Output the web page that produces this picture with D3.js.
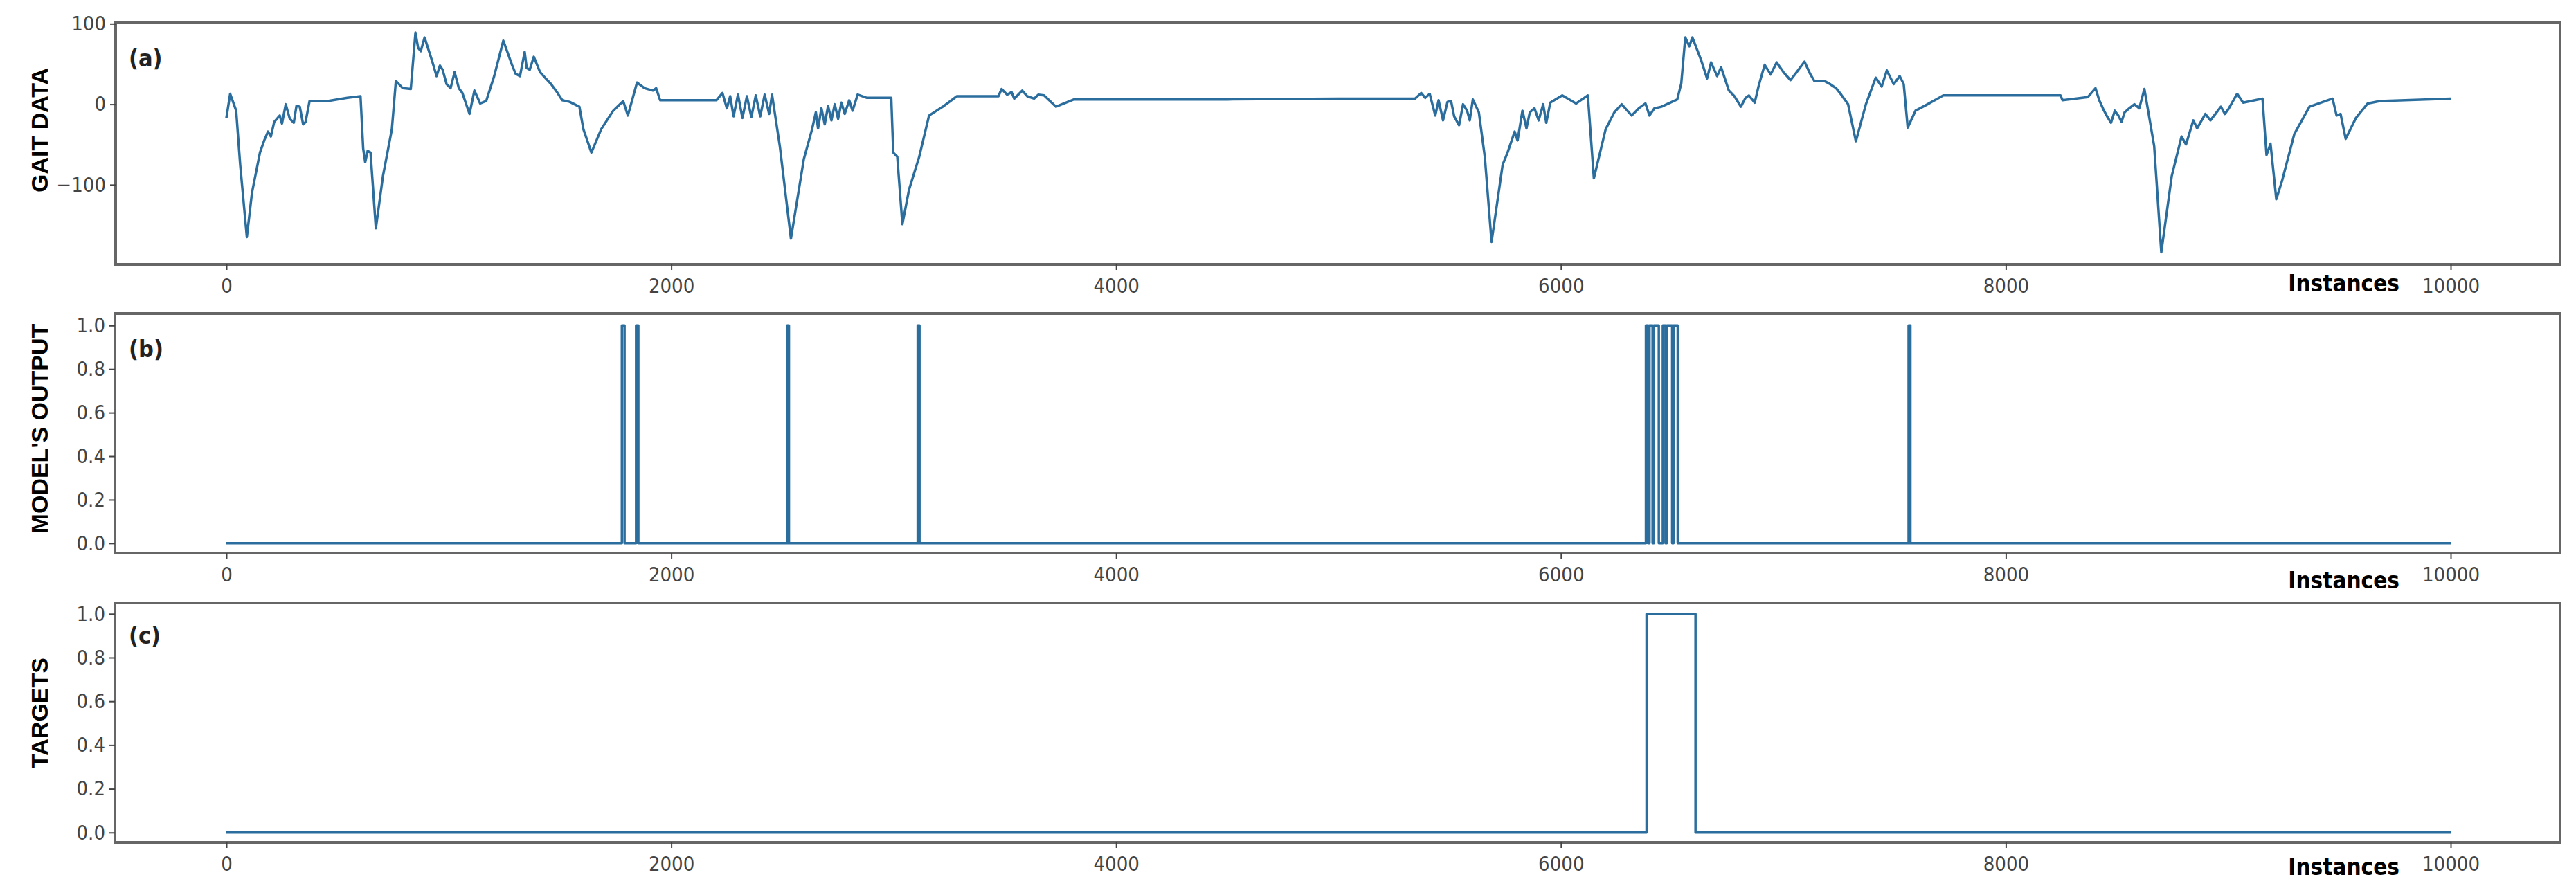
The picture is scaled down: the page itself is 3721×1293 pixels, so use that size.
<!DOCTYPE html>
<html><head><meta charset="utf-8">
<script src="https://cdn.jsdelivr.net/npm/d3@7"></script>
<style>body{margin:0;background:#fff}</style></head>
<body><svg id="c" width="3721" height="1293"></svg>
<script>
// ---- data ----
const gaitX = [0,17,44,62,92,115,151,170,187,200,215,240,250,267,285,303,315,330,345,356,374,455,544,603,615,624,635,648,672,704,744,762,793,829,850,862,874,891,927,945,960,972,990,1008,1026,1045,1061,1093,1115,1141,1168,1204,1245,1284,1300,1320,1341,1350,1364,1382,1410,1436,1460,1489,1510,1543,1587,1605,1641,1685,1739,1784,1805,1846,1880,1918,1932,1950,2203,2230,2250,2265,2280,2300,2320,2340,2360,2380,2400,2420,2440,2453,2488,2538,2596,2633,2650,2660,2675,2690,2705,2720,2735,2750,2765,2780,2800,2815,2838,2880,2989,2998,3016,3039,3069,3114,3159,3221,3284,3471,3485,3510,3530,3542,3578,3600,3631,3650,3676,3729,3810,3988,4500,5000,5344,5372,5390,5410,5435,5450,5470,5490,5506,5520,5542,5560,5578,5590,5604,5631,5658,5688,5738,5760,5792,5805,5827,5845,5860,5881,5900,5920,5934,5952,6006,6068,6121,6148,6201,6240,6273,6318,6350,6380,6398,6420,6452,6523,6541,6559,6577,6591,6630,6657,6675,6702,6720,6755,6780,6809,6830,6845,6871,6889,6916,6943,6970,7000,7032,7060,7095,7120,7139,7184,7210,7237,7260,7291,7326,7371,7415,7442,7465,7496,7523,7541,7559,7594,7648,7719,8246,8255,8369,8403,8420,8438,8455,8473,8490,8508,8520,8534,8555,8578,8600,8623,8667,8699,8746,8790,8810,8843,8860,8897,8920,8967,8985,9003,9040,9067,9154,9172,9190,9216,9242,9297,9365,9469,9487,9505,9528,9574,9627,9681,10000];
const gaitY = [-17,13,-8,-75,-165,-110,-60,-45,-34,-40,-22,-14,-24,0,-18,-23,-2,-3,-25,-22,4,4,8,10,-55,-72,-58,-60,-154,-89,-31,29,20,19,89,70,66,83,52,35,48,43,25,20,40,20,14,-12,17,1,4,35,79,49,38,35,65,45,43,59,40,32,25,14,5,3,-3,-31,-60,-31,-8,4,-14,27,20,17,20,5,5,14,-5,10,-15,12,-17,10,-16,11,-15,12,-12,12,-52,-167,-68,-31,-10,-30,-5,-25,-2,-20,0,-18,2,-12,5,-8,12,8,8,-60,-65,-149,-106,-66,-14,-3,10,10,19,12,15,7,17,10,7,12,11,-3,6,6,6,7,7,14,8,13,-14,5,-20,3,4,-15,-26,0,-8,-20,6,-10,-66,-171,-75,-60,-34,-45,-8,-30,-10,-5,-20,0,-23,2,11,1,11,-92,-31,-10,0,-14,-5,1,-14,-5,-3,6,26,83,72,83,55,32,52,35,46,17,10,-3,8,11,2,23,49,37,52,40,30,40,53,38,29,29,25,20,12,0,-46,0,33,22,42,25,35,25,-29,-8,0,11,11,5,9,20,5,-6,-15,-23,-8,-15,-22,-10,-5,0,-5,19,-52,-184,-89,-40,-50,-20,-30,-12,-20,-3,-12,-5,13,2,7,-63,-49,-118,-95,-37,-3,7,-14,-12,-43,-17,1,4,7];
const modelOn  = [1778,1842,2521,3108,6382,6398,6418,6458,6476,6506,7563];
const modelOff = [1790,1852,2529,3116,6392,6412,6440,6470,6500,6525,7571];
const targetOn = [6385];
const targetOff = [6605];
const xTicks = [0,2000,4000,6000,8000,10000];
const gaitTicks = [-100,0,100];
const binTicks = [0,0.2,0.4,0.6,0.8,1.0];
const yLabels = ["GAIT DATA","MODEL'S OUTPUT","TARGETS"];
const panelTags = ["(a)","(b)","(c)"];

// ---- drawing ----
const svg = d3.select("#c");
const color = "#2b6e9e";
const tickFont = "'DejaVu Sans Condensed','Liberation Sans Narrow','Liberation Sans',sans-serif";
const x = d3.scaleLinear().domain([0,10000]).range([327,3540]);

function pulses(on, off){
  const pts=[[0,0]];
  on.forEach((s,i)=>{pts.push([s,0],[s,1],[off[i],1],[off[i],0]);});
  pts.push([10000,0]);
  return pts;
}

const panels = [
  {top:32,bottom:382,left:167,domain:[-199,102],ticks:gaitTicks,fmt:d=>d<0?"\u2212"+Math.abs(d):d,
   data:gaitX.map((v,i)=>[v,gaitY[i]]),lab:188,tagY:96,instY:421},
  {top:453,bottom:799,left:166,domain:[-0.045,1.055],ticks:binTicks,fmt:d3.format(".1f"),
   data:pulses(modelOn,modelOff),lab:619,tagY:516,instY:850},
  {top:871,bottom:1217,left:166,domain:[-0.045,1.05],ticks:binTicks,fmt:d3.format(".1f"),
   data:pulses(targetOn,targetOff),lab:1030,tagY:930,instY:1264}
];
const right = 3698;

panels.forEach((p,i)=>{
  const y = d3.scaleLinear().domain(p.domain).range([p.bottom,p.top]);
  const g = svg.append("g");
  g.append("path").datum(p.data)
    .attr("d",d3.line().x(d=>x(d[0])).y(d=>y(d[1])))
    .attr("fill","none").attr("stroke",color).attr("stroke-width",3.5).attr("stroke-linejoin","round");
  g.append("rect").attr("x",p.left).attr("y",p.top).attr("width",right-p.left).attr("height",p.bottom-p.top)
    .attr("fill","none").attr("stroke","#666").attr("stroke-width",4);
  const xa = g.append("g").attr("transform",`translate(0,${p.bottom})`)
    .call(d3.axisBottom(x).tickValues(xTicks).tickSize(8).tickPadding(12).tickFormat(d3.format("d")));
  const ya = g.append("g").attr("transform",`translate(${p.left},0)`)
    .call(d3.axisLeft(y).tickValues(p.ticks).tickSize(8).tickPadding(6).tickFormat(p.fmt));
  [xa,ya].forEach(a=>{
    a.select(".domain").remove();
    a.selectAll("line").attr("stroke","#444").attr("stroke-width",2);
    a.selectAll("text").attr("font-family",tickFont).attr("font-size",29).attr("fill","#444");
  });
  g.append("text").attr("transform",`translate(60,${p.lab}) rotate(-90)`)
    .attr("text-anchor","middle").attr("dominant-baseline","middle")
    .attr("font-family","'Liberation Sans',Arial,sans-serif").attr("font-weight","bold").attr("font-size",34)
    .attr("fill","#000").text(yLabels[i]);
  g.append("text").attr("x",186).attr("y",p.tagY)
    .attr("font-family",tickFont).attr("font-weight","bold").attr("font-size",34).attr("fill","#222").text(panelTags[i]);
  g.append("text").attr("x",3466).attr("y",p.instY).attr("text-anchor","end")
    .attr("font-family","'Liberation Sans Narrow','DejaVu Sans Condensed','Liberation Sans',sans-serif")
    .attr("font-weight","bold").attr("font-size",33).attr("fill","#000").text("Instances");
});
</script></body></html>
